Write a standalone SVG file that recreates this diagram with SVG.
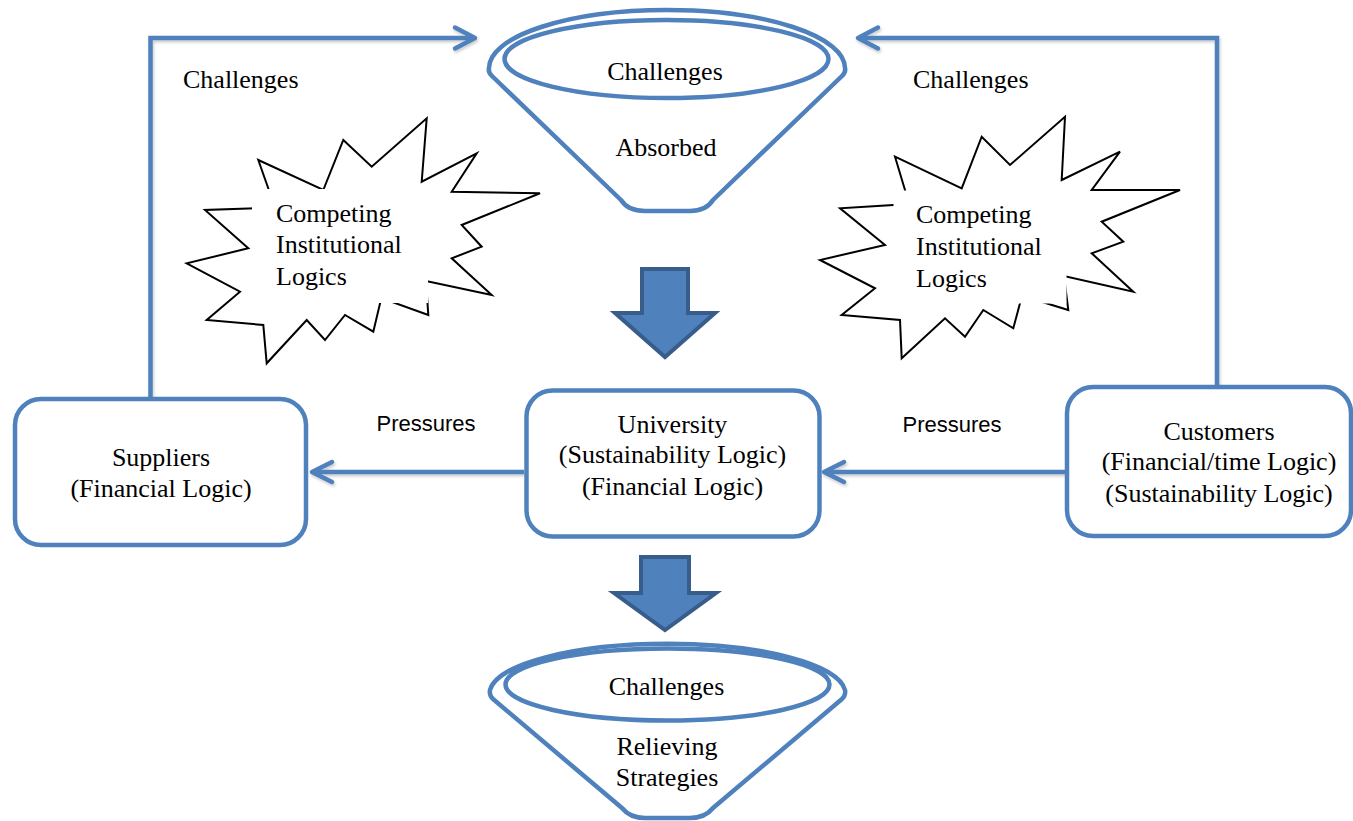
<svg xmlns="http://www.w3.org/2000/svg" width="1353" height="821" viewBox="0 0 1353 821">
<style>
.t{font-family:"Liberation Serif","Times New Roman",serif;font-size:26px;fill:#000}
.c{text-anchor:middle}
.s{font-family:"Liberation Sans",Arial,sans-serif;font-size:22px;fill:#000;text-anchor:middle}
.box{fill:#fff;stroke:#4f81bd;stroke-width:4.5}
.fun{fill:#fff;stroke:#4f81bd;stroke-width:4.5;stroke-linejoin:round}
.star{fill:#fff;stroke:#000;stroke-width:2;stroke-linejoin:miter}
.blk{fill:#4f81bd;stroke:#385d8a;stroke-width:4;stroke-linejoin:miter}
.con{fill:none;stroke:#4f81bd;stroke-width:4.5;stroke-linejoin:miter}
.hd{fill:none;stroke:#4f81bd;stroke-width:4.5;stroke-linecap:round;stroke-linejoin:round}
</style>
<defs>
<filter id="sh" x="-5%" y="-5%" width="110%" height="120%">
<feDropShadow dx="1" dy="2" stdDeviation="1.5" flood-color="#000" flood-opacity="0.22"/>
</filter>
</defs>
<rect width="1353" height="821" fill="#fff"/>

<g id="connectors">
<g filter="url(#sh)">
<polyline class="con" points="150.5,397 150.5,38 474,38"/>
<polyline class="hd" points="455,27.5 475,38 455,48.5"/>
<polyline class="con" points="1217,387 1217,38 860,38"/>
<polyline class="hd" points="878,27.5 858,38 878,48.5"/>
<line class="con" x1="524" y1="472" x2="313" y2="472"/>
<polyline class="hd" points="332,462 312,472 332,482"/>
<line class="con" x1="1065" y1="472" x2="825" y2="472"/>
<polyline class="hd" points="844,462 824,472 844,482"/>
</g>
<text class="t" x="183" y="88">Challenges</text>
<text class="t" x="913" y="88">Challenges</text>
<text class="s" x="426" y="431">Pressures</text>
<text class="s" x="952" y="432">Pressures</text>
</g>

<g id="funnel-top">
<path class="fun" d="M489,68 A178,58 0 0 1 845,68 Q846,72 842,76 L713,200 Q706,211 690,211 L645,211 Q628,211 621,200 L492,76 Q488,72 489,68 Z"/>
<ellipse class="fun" cx="666.5" cy="59" rx="162" ry="39"/>
<text class="t c" x="665" y="80">Challenges</text>
<text class="t c" x="666" y="156">Absorbed</text>
</g>

<g id="star-left">
<polygon class="star" points="258.3,160 323.3,190 343.3,140 371.7,166.7 426.7,118.3 421.7,181.7 476.7,153.3 451.7,191.7 540,193.3 461.7,225 481.7,246.7 451.7,258.3 491.7,295 426,281 428.3,315 381.3,298 373.3,331.7 345,315 325,340 306.7,320 266.7,363.3 263.3,325 206.7,320 240,291.7 186.7,263.3 248.3,248.3 205,210 275,207.5"/>
<rect x="252" y="189" width="176" height="114" fill="#fff"/>
<text class="t" x="276" y="222">Competing</text>
<text class="t" x="276" y="253">Institutional</text>
<text class="t" x="276" y="285">Logics</text>
</g>

<g id="star-right">
<polygon class="star" points="895,156.7 961.7,188.3 981.7,136.7 1010,165 1065,116.7 1061.7,180 1120,151.7 1091.7,190 1180,190 1101.7,221.7 1123.3,241.7 1091.7,253.3 1133.3,291.7 1064,276 1068.3,310 1022,295.8 1013.3,328.3 983.3,310 965,336.7 945,318.3 901.7,358.3 900,320 841.7,315 875,288.3 820,260 885,245 840,208.3 909.2,204"/>
<rect x="893.5" y="190.5" width="173" height="113" fill="#fff"/>
<text class="t" x="916" y="223">Competing</text>
<text class="t" x="916" y="255">Institutional</text>
<text class="t" x="916" y="287">Logics</text>
</g>

<g id="arrow-down-1">
<polygon class="blk" points="642,269 688,269 688,313 715,313 665,357 615,313 642,313"/>
</g>

<g id="suppliers">
<rect class="box" x="15" y="399" width="291" height="146" rx="26"/>
<text class="t c" x="161" y="466">Suppliers</text>
<text class="t c" x="161" y="497">(Financial Logic)</text>
</g>

<g id="university">
<rect class="box" x="526.5" y="390.5" width="293" height="146" rx="26"/>
<text class="t c" x="672.5" y="433">University</text>
<text class="t c" x="672.5" y="463">(Sustainability Logic)</text>
<text class="t c" x="672.5" y="495">(Financial Logic)</text>
</g>

<g id="customers">
<rect class="box" x="1067" y="387" width="284" height="149" rx="26"/>
<text class="t c" x="1219" y="440">Customers</text>
<text class="t c" x="1219" y="470">(Financial/time Logic)</text>
<text class="t c" x="1219" y="502">(Sustainability Logic)</text>
</g>

<g id="arrow-down-2">
<polygon class="blk" points="641,557 689,557 689,593 716,593 665,630 614,593 641,593"/>
</g>

<g id="funnel-bottom">
<path class="fun" d="M490,690 A178,50 0 0 1 845,690 Q846,695 842,699 L713,808 Q705,818 690,818 L645,818 Q630,818 622,808 L493,699 Q489,695 490,690 Z"/>
<ellipse class="fun" cx="667.5" cy="684.5" rx="162" ry="36"/>
<text class="t c" x="666.5" y="695">Challenges</text>
<text class="t c" x="667" y="755">Relieving</text>
<text class="t c" x="667" y="786">Strategies</text>
</g>
</svg>
